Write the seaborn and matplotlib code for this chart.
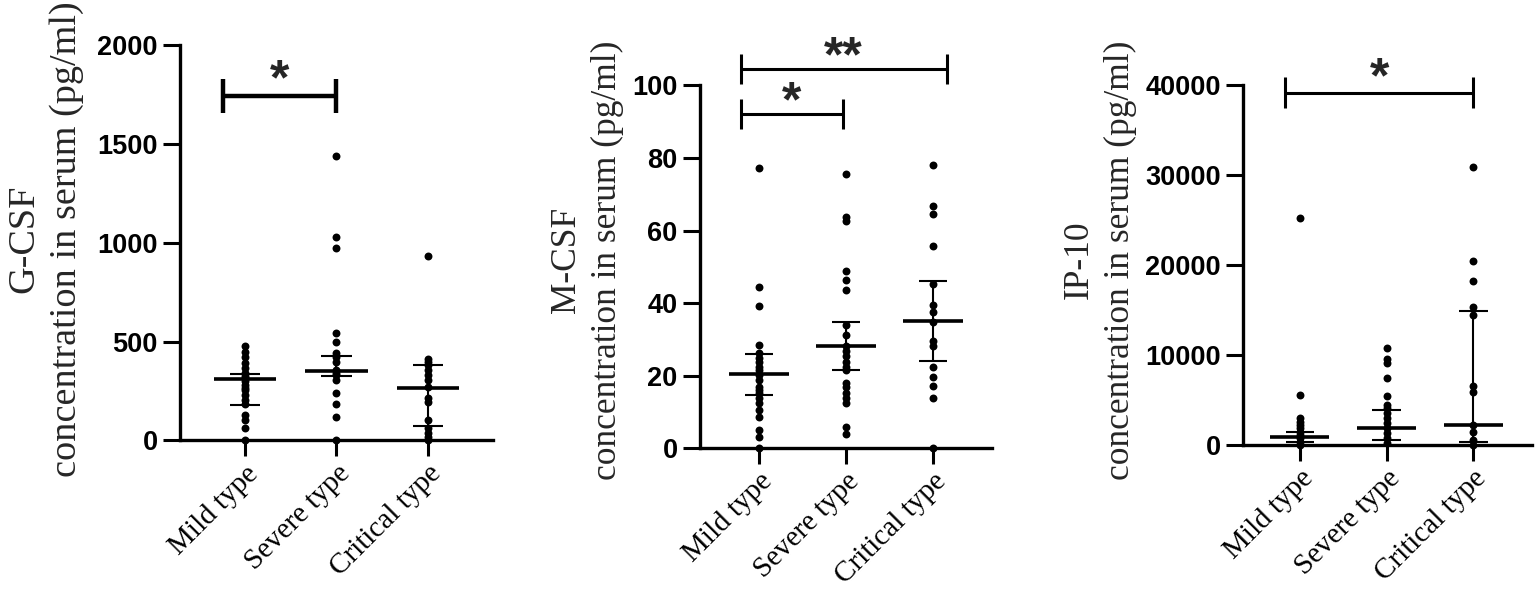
import matplotlib
matplotlib.use("Agg")
import matplotlib.pyplot as plt
import seaborn as sns
import pandas as pd
import numpy as np

sns.set_theme(style="ticks")
plt.rcParams['font.family'] = ['Liberation Serif', 'DejaVu Serif']

categories = ["Mild type", "Severe type", "Critical type"]

# ---------------- G-CSF (pg/ml) ----------------
gcsf_mild = [479, 449, 421, 390, 365, 340, 325, 314, 300, 281, 268, 255, 230, 205, 184, 129, 104, 65, 0]
gcsf_severe = [1438, 1029, 971, 542, 496, 441, 420, 398, 356, 340, 331, 306, 239, 185, 117, 0]
gcsf_critical = [933, 410, 395, 382, 356, 331, 306, 269, 213, 196, 104, 62, 36, 19, 0]
gcsf_median = [309, 353, 265]
gcsf_q1 = [181, 326, 72]
gcsf_q3 = [336, 427, 380]
gcsf_yticks = [0, 500, 1000, 1500, 2000]

# ---------------- M-CSF (pg/ml) ----------------
mcsf_mild = [77.3, 44.4, 39.1, 28.5, 26.2, 24.9, 23.7, 22.5, 21.6, 20.2, 18.9, 17.0, 16.1, 15.2,
             13.8, 12.4, 10.6, 8.7, 5.1, 3.2, 0]
mcsf_severe = [75.7, 63.7, 62.6, 48.8, 46.5, 43.7, 34.1, 31.3, 28.1, 26.7, 25.3, 23.9, 22.5, 21.6,
               18.0, 17.0, 15.2, 13.8, 12.4, 5.8, 3.9]
mcsf_critical = [78.0, 66.7, 64.7, 55.7, 45.4, 39.4, 37.5, 34.7, 29.6, 28.1, 22.5, 19.6, 17.2, 13.8, 0]
mcsf_median = [20.4, 28.3, 35.1]
mcsf_q1 = [14.6, 21.6, 24.1]
mcsf_q3 = [26.0, 34.8, 46.0]
mcsf_yticks = [0, 20, 40, 60, 80, 100]

# ---------------- IP-10 (pg/ml) ----------------
ip10_mild = [25177, 5530, 2980, 2600, 2234, 1862, 1490, 1117, 745, 372, 0]
ip10_severe = [10790, 9550, 9150, 7440, 5440, 4470, 4100, 3540, 2980, 2420, 1860, 1300, 745, 190]
ip10_critical = [30814, 20460, 18163, 15300, 14450, 6510, 5860, 2234, 1490, 560, 0]
ip10_median = [856, 1930, 2234]
ip10_q1 = [372, 560, 372]
ip10_q3 = [1490, 3910, 14820]
ip10_yticks = [0, 10000, 20000, 30000, 40000]

# significance brackets: (x start, x end, bar y, half-height of ends, star y, label)
gcsf_sig_x1 = [-0.24]; gcsf_sig_x2 = [1.0]; gcsf_sig_y = [1742]; gcsf_sig_h = [86]
gcsf_sig_star_y = [1815]; gcsf_sig_label = ["*"]
mcsf_sig_x1 = [-0.21, -0.21]; mcsf_sig_x2 = [0.97, 2.16]; mcsf_sig_y = [92.2, 104.6]; mcsf_sig_h = [4.1, 4.1]
mcsf_sig_star_y = [95.2, 107.6]; mcsf_sig_label = ["*", "**"]
ip10_sig_x1 = [-0.17]; ip10_sig_x2 = [2.0]; ip10_sig_y = [39100]; ip10_sig_h = [1730]
ip10_sig_star_y = [40600]; ip10_sig_label = ["*"]

fig = plt.figure(figsize=(15.36, 5.9), dpi=100)


def make_df(groups):
    rows = []
    for cat, vals in zip(categories, groups):
        for v in vals:
            rows.append({"group": cat, "value": v})
    return pd.DataFrame(rows)


def draw_panel(rect, groups, med, q1, q3, yticks, xlim, ylabel, ylsize, ylpos,
               sx1, sx2, sy, sh, sstar, slab, sig_lw):
    ax = fig.add_axes(rect)
    df = make_df(groups)
    sns.stripplot(data=df, x="group", y="value", order=categories, jitter=False,
                  color="black", size=5.7, linewidth=0, ax=ax, clip_on=False, zorder=3)
    xs = np.arange(len(categories))
    ax.hlines(med, xs - 0.34, xs + 0.34, color="black", lw=2.6, zorder=4, clip_on=False)
    ax.hlines(q3, xs - 0.165, xs + 0.165, color="black", lw=1.5, zorder=4, clip_on=False)
    ax.hlines(q1, xs - 0.165, xs + 0.165, color="black", lw=1.5, zorder=4, clip_on=False)
    ax.vlines(xs, q1, q3, color="black", lw=1.5, zorder=4, clip_on=False)

    ax.set_xlim(*xlim)
    ax.set_ylim(yticks[0], yticks[-1])
    ax.set_yticks(yticks)
    ax.set_yticklabels([str(t) for t in yticks])
    ax.set_xticks(xs)
    ax.set_xticklabels(categories, rotation=45, ha="right", va="top",
                       rotation_mode="anchor", fontsize=21, family="Liberation Serif")
    for lab in ax.get_yticklabels():
        lab.set_fontfamily("Liberation Sans")
        lab.set_fontweight("bold")
        lab.set_fontsize(19.5)
    ax.tick_params(axis="y", length=12, width=2.2, pad=4, colors="black")
    ax.tick_params(axis="x", length=11.5, width=2.2, pad=3, colors="black")
    ax.spines["top"].set_visible(False)
    ax.spines["right"].set_visible(False)
    for s in ["left", "bottom"]:
        ax.spines[s].set_linewidth(2.4)
        ax.spines[s].set_color("black")
    ax.set_xlabel("")
    ax.set_ylabel(ylabel, fontsize=ylsize, family="Liberation Serif", linespacing=1.3,
                  va="center", ha="center")
    ax.yaxis.set_label_coords(ylpos[0], ylpos[1], transform=fig.transFigure)
    ax.patch.set_alpha(0)

    for x1, x2, y, h, ys, lab in zip(sx1, sx2, sy, sh, sstar, slab):
        ax.hlines(y, x1, x2, color="black", lw=sig_lw, clip_on=False)
        ax.vlines([x1, x2], y - h, y + h, color="black", lw=sig_lw, clip_on=False)
        ax.text((x1 + x2) / 2, ys, lab, ha="center", va="center", fontsize=36,
                fontweight="bold", family="Liberation Sans", clip_on=False)
    return ax


draw_panel([0.1172, 0.2534, 0.2038, 0.6703],
           [gcsf_mild, gcsf_severe, gcsf_critical], gcsf_median, gcsf_q1, gcsf_q3,
           gcsf_yticks, (-0.710, 2.711),
           "G-CSF\nconcentration in serum (pg/ml)", 27.5, (45 / 1536, 1 - 239 / 590),
           gcsf_sig_x1, gcsf_sig_x2, gcsf_sig_y, gcsf_sig_h, gcsf_sig_star_y, gcsf_sig_label, 3.2)

draw_panel([0.4557, 0.2402, 0.1901, 0.6149],
           [mcsf_mild, mcsf_severe, mcsf_critical], mcsf_median, mcsf_q1, mcsf_q3,
           mcsf_yticks, (-0.678, 2.678),
           "M-CSF\nconcentration in serum (pg/ml)", 25.5, (587 / 1536, 1 - 260 / 590),
           mcsf_sig_x1, mcsf_sig_x2, mcsf_sig_y, mcsf_sig_h, mcsf_sig_star_y, mcsf_sig_label, 2.2)

draw_panel([0.8092, 0.2458, 0.1882, 0.6108],
           [ip10_mild, ip10_severe, ip10_critical], ip10_median, ip10_q1, ip10_q3,
           ip10_yticks, (-0.658, 2.677),
           "IP-10\nconcentration in serum (pg/ml)", 25.5, (1100 / 1536, 1 - 260 / 590),
           ip10_sig_x1, ip10_sig_x2, ip10_sig_y, ip10_sig_h, ip10_sig_star_y, ip10_sig_label, 2.2)

fig.savefig("out.png", dpi=100, facecolor="white")
